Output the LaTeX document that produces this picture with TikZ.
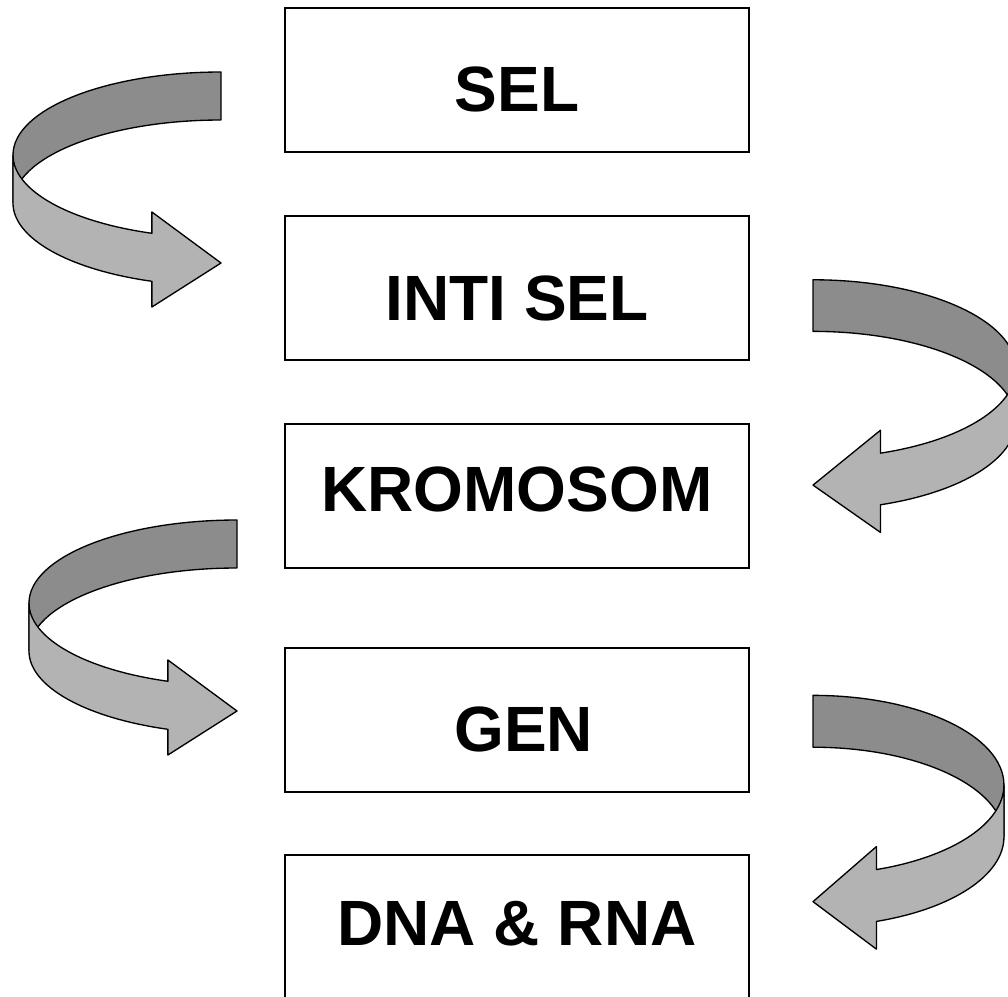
\documentclass[tikz,border=0pt]{standalone}
\usepackage{fontspec}
\setmainfont{Liberation Sans}
\usepackage{xcolor}
\usepackage{tikz}
\definecolor{ribbondark}{RGB}{140,140,140}
\definecolor{ribbonlight}{RGB}{179,179,179}
\tikzset{
  cell/.style={draw, line width=1.5pt, minimum width=348pt, minimum height=108pt,
    inner sep=0pt, font=\bfseries\fontsize{48}{58}\selectfont, text depth=0pt},
  ribbon/.style={draw=black, line width=1pt, line join=round},
  bendarrow/.pic={
    % back of the band
    \draw[ribbon, fill=ribbondark] (0,-83)
      arc[start angle=270, end angle=180, x radius=208, y radius=83] -- (-208,48)
      arc[start angle=180, end angle=270, x radius=208, y radius=83] -- cycle;
    % front of the band with the head
    \draw[ribbon, fill=ribbonlight] (-208,0)
      arc[start angle=180, end angle=109.4, x radius=208, y radius=83]
      -- (-69.1,57) -- (0,108) -- (-69.1,152) -- (-69.1,126.3)
      arc[start angle=109.4, end angle=180, x radius=208, y radius=83] -- cycle;
  }
}

\begin{document}
\begin{tikzpicture}[x=0.75pt, y=-0.75pt]

\useasboundingbox (0,0) rectangle (1008,997);
\clip (0,0) rectangle (1008,997);

\node[cell, text height=48pt] (sel) at (517,79.5) {SEL};
\node[cell, text height=48pt] (inti) at (517,288) {INTI SEL};
\node[cell, text height=23pt] (krom) at (517,496) {KROMOSOM};
\node[cell, text height=48pt] (gen) at (517,719.5) {\hspace*{10pt}GEN};
\node[cell, text height=27pt] (dna) at (517,927) {DNA \& RNA};

\pic at (221,155) {bendarrow};
\pic[xscale=-0.976, yscale=1.075] at (813,369) {bendarrow};
\pic at (237,603) {bendarrow};
\pic[xscale=-0.918, yscale=1.08] at (813,785) {bendarrow};

\end{tikzpicture}
\end{document}
